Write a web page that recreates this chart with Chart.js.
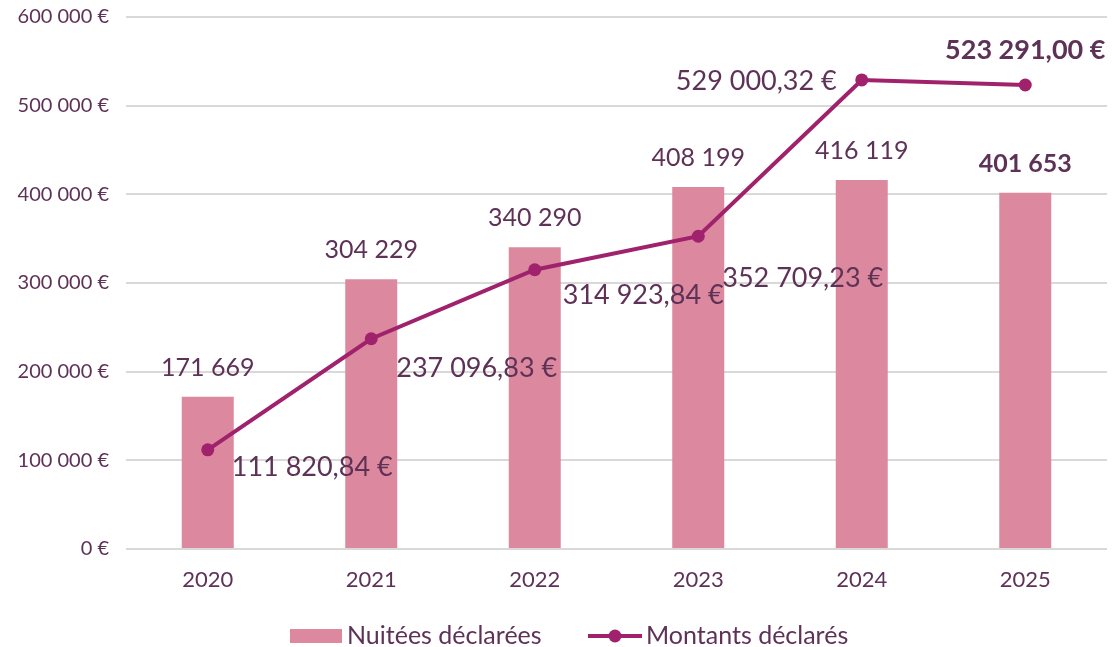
<!DOCTYPE html>
<html>
<head>
<meta charset="utf-8">
<script src="https://cdn.jsdelivr.net/npm/chart.js@4"></script>
<style>
  html, body { margin: 0; padding: 0; background: #fff; }
  #wrap { width: 1114px; height: 647px; }
</style>
</head>
<body>
<div id="wrap"><canvas id="declarationsChart"></canvas></div>
<script>
  // Données : nuitées et montants déclarés par année
  var annees = ["2020", "2021", "2022", "2023", "2024", "2025"];
  var nuitees = [171669, 304229, 340290, 408199, 416119, 401653];
  var montants = [111820.84, 237096.83, 314923.84, 352709.23, 529000.32, 523291.00];

  var couleurTexte = '#5e3256';
  var couleurBarre = '#dc889e';
  var couleurLigne = '#a0226c';
  var police = 'Lato';

  // position des étiquettes des montants (décalage par rapport au point)
  var posMontants = [
    { dx: 24, dy: 17, align: 'left' },
    { dx: 25, dy: 30, align: 'left' },
    { dx: 28, dy: 26, align: 'left' },
    { dx: 24, dy: 42, align: 'left' },
    { dx: -25, dy: 1, align: 'right' },
    { dx: 0, dy: -35, align: 'center', gras: true }
  ];

  function formatEntier(v) {
    return String(Math.round(v)).replace(/\B(?=(\d{3})+(?!\d))/g, ' ');
  }
  function formatEuro(v) {
    var p = v.toFixed(2).split('.');
    return formatEntier(parseInt(p[0], 10)) + ',' + p[1] + ' €';
  }

  // Étiquettes de valeurs + légende
  var etiquettesPlugin = {
    id: 'etiquettes',
    afterDatasetsDraw: function(chart) {
      var ctx = chart.ctx;
      ctx.save();
      ctx.fillStyle = couleurTexte;
      ctx.textBaseline = 'middle';

      var barres = chart.getDatasetMeta(0).data;
      barres.forEach(function(el, i) {
        var gras = (i === barres.length - 1);
        ctx.font = (gras ? 'bold ' : '') + '25px ' + police;
        ctx.textAlign = 'center';
        ctx.fillText(formatEntier(nuitees[i]), el.x, el.y - 29);
      });

      var points = chart.getDatasetMeta(1).data;
      points.forEach(function(el, i) {
        var p = posMontants[i];
        ctx.font = (p.gras ? 'bold ' : '') + '27px ' + police;
        ctx.textAlign = p.align;
        ctx.fillText(formatEuro(montants[i]), el.x + p.dx, el.y + p.dy);
      });
      ctx.restore();
    },
    afterDraw: function(chart) {
      var ctx = chart.ctx;
      var y = 636;
      ctx.save();
      ctx.font = '25px ' + police;
      ctx.textAlign = 'left';
      ctx.textBaseline = 'middle';

      ctx.fillStyle = couleurBarre;
      ctx.fillRect(290, y - 7, 52, 14);
      ctx.fillStyle = couleurTexte;
      ctx.fillText('Nuitées déclarées', 347, y);

      ctx.strokeStyle = couleurLigne;
      ctx.lineWidth = 4;
      ctx.beginPath();
      ctx.moveTo(588, y);
      ctx.lineTo(642, y);
      ctx.stroke();
      ctx.fillStyle = couleurLigne;
      ctx.beginPath();
      ctx.arc(615, y, 6.5, 0, Math.PI * 2);
      ctx.fill();
      ctx.fillStyle = couleurTexte;
      ctx.fillText('Montants déclarés', 646, y);
      ctx.restore();
    }
  };

  var data = {
    labels: annees,
    datasets: [{
      type: 'bar',
      label: 'Nuitées déclarées',
      data: nuitees,
      backgroundColor: couleurBarre,
      borderWidth: 0,
      categoryPercentage: 1,
      barPercentage: 0.318,
      order: 1
    }, {
      type: 'line',
      label: 'Montants déclarés',
      data: montants,
      borderColor: couleurLigne,
      backgroundColor: couleurLigne,
      borderWidth: 4,
      pointRadius: 6.5,
      pointBackgroundColor: couleurLigne,
      pointBorderWidth: 0,
      tension: 0,
      order: 0
    }]
  };

  var options = {
    responsive: true,
    maintainAspectRatio: false,
    animation: false,
    layout: { padding: { top: 17, right: 7, left: 0, bottom: 58 } },
    plugins: {
      legend: { display: false },
      tooltip: { enabled: false }
    },
    scales: {
      x: {
        grid: { display: false, drawTicks: false },
        border: { display: false },
        ticks: { color: couleurTexte, font: { family: police, size: 22 }, padding: 18 },
        afterFit: function(scale) { scale.height = 40; }
      },
      y: {
        min: 0,
        max: 600000,
        grid: { color: '#d9d9d9', lineWidth: 2, drawTicks: false },
        border: { display: false },
        ticks: {
          stepSize: 100000,
          color: couleurTexte,
          font: { family: police, size: 20 },
          padding: 17,
          callback: function(value) { return formatEntier(value) + ' €'; }
        },
        afterFit: function(scale) {
          scale.width = 126;
          scale.paddingTop = 0;
          scale.paddingBottom = 0;
        }
      }
    }
  };

  var declarationsChart = new Chart(document.getElementById('declarationsChart'), {
    type: 'bar',
    data: data,
    options: options,
    plugins: [etiquettesPlugin]
  });
</script>
</body>
</html>
